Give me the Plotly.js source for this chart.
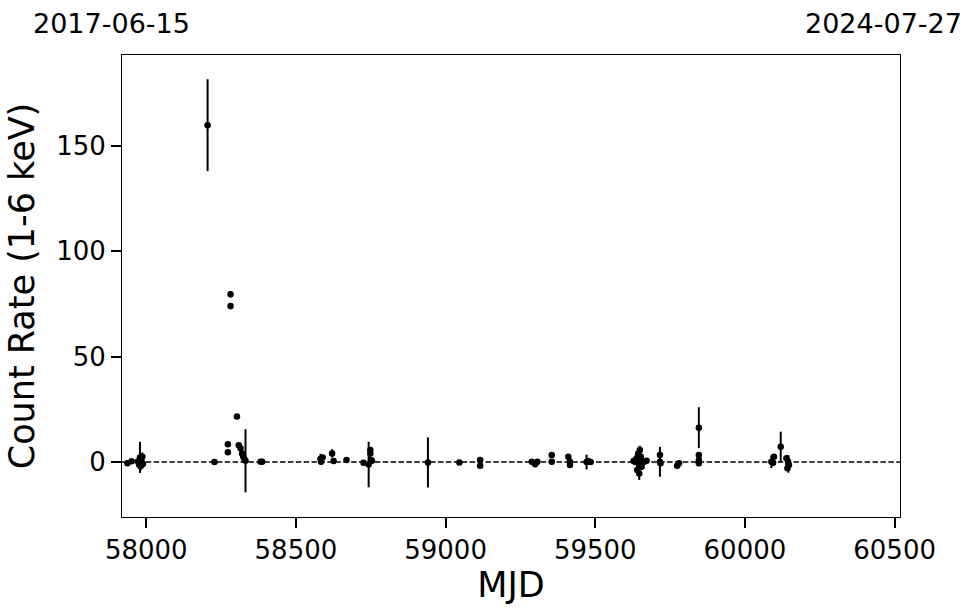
<!DOCTYPE html>
<html>
<head>
<meta charset="utf-8">
<script src="https://cdn.plot.ly/plotly-3.0.1.min.js"></script>
<style>html,body{margin:0;padding:0;background:#fff;}#chart{width:974px;height:613px;}</style>
</head>
<body>
<div id="chart"></div>
<script>
// Observation epochs (MJD), count rate (1-6 keV) and 1-sigma errors
const mjd = [
  57937, 57951, 57972, 57976, 57979, 57981, 57983, 57985, 57987, 57989,
  58204.9, 58228, 58272.6, 58272.6, 58281.6, 58281.6, 58303, 58309, 58315, 58320, 58324, 58328, 58331.6, 58382, 58387,
  58582, 58584, 58589.5, 58621, 58626, 58669,
  58726, 58743, 58748.6, 58748.6, 58751, 58754,
  58941, 59046, 59115.5, 59115.5,
  59288, 59299, 59306.6, 59354.6, 59354.6, 59410, 59415.6, 59415.6, 59471, 59476.6, 59484.6,
  59628, 59632.5, 59638, 59640, 59643.5, 59645, 59647, 59647, 59647, 59649, 59652, 59655, 59660, 59665, 59671.5,
  59716, 59716, 59718, 59773.6, 59780,
  59846, 59846, 59846, 59846,
  60088.4, 60094, 60097, 60119.5, 60138.5, 60142, 60144, 60147, 60145
];
const rate = [
  -0.6, 0.4, 0.3, -1.2, 2.2, -2.0, 0.8, -0.4, 2.5, -1.0,
  159.9, 0.0, 8.4, 4.6, 79.6, 74.0, 21.6, 8.0, 6.5, 4.1, 2.5, 1.3, 0.6, 0.1, 0.1,
  1.4, 0.1, 2.2, 4.1, 0.5, 0.9,
  -0.3, -1.2, 5.7, 4.1, 1.0, 0.6,
  -0.2, -0.2, 1.0, -1.8,
  0.1, -1.1, 0.1, 3.3, 0.1, 2.5, 0.1, -1.4, 0.0, 0.5, 0.0,
  0.5, 0.1, 1.8, -3.8, 4.1, -0.8, -1.4, -5.4, -0.6, 5.7, 2.5, -2.2, 0.1, 0.3, 0.6,
  3.3, 0.1, -0.6, -1.8, -0.6,
  16.3, 3.3, 0.9, -0.6,
  0.1, -0.3, 2.5, 7.3, 1.8, -3.0, 0.1, -1.4, -0.9
];
const rateErr = [
  1.0, 1.0, 1.5, 1.5, 7.4, 2.0, 2.0, 1.5, 2.0, 1.5,
  21.8, 1.0, 1.0, 1.0, 1.5, 1.5, 1.0, 1.0, 1.0, 1.0, 1.0, 1.0, 15.0, 1.0, 1.0,
  2.5, 1.0, 1.0, 2.0, 1.0, 1.0,
  1.0, 10.8, 1.5, 1.5, 1.0, 1.0,
  11.9, 1.0, 1.0, 1.0,
  1.0, 1.0, 1.0, 1.0, 1.0, 1.0, 1.0, 1.0, 3.5, 1.0, 1.0,
  1.0, 1.0, 2.0, 1.5, 2.0, 1.5, 1.5, 1.5, 7.9, 2.0, 1.5, 1.5, 1.0, 1.0, 1.0,
  1.0, 7.1, 1.0, 1.0, 1.0,
  9.7, 1.0, 1.0, 1.0,
  3.0, 1.0, 1.0, 7.1, 1.0, 1.0, 1.0, 1.0, 4.2
];
const xTicks = [58000, 58500, 59000, 59500, 60000, 60500];
const yTicks = [0, 50, 100, 150];
const startDate = "2017-06-15";
const endDate = "2024-07-27";
const xRange = [57919, 60518];
const yRange = [-26.1, 193.2];

const font = "DejaVu Sans, sans-serif";
const trace = {
  x: mjd, y: rate, type: "scatter", mode: "markers",
  marker: {color: "#000", size: 6.5},
  error_y: {type: "data", array: rateErr, visible: true, color: "#000", thickness: 2, width: 0},
  hoverinfo: "skip"
};
const layout = {
  width: 974, height: 613,
  margin: {l: 122, r: 74, t: 55, b: 96},
  paper_bgcolor: "#fff", plot_bgcolor: "#fff",
  showlegend: false,
  font: {family: font, color: "#000"},
  xaxis: {
    range: xRange, tickvals: xTicks, ticktext: xTicks.map(String),
    showgrid: false, zeroline: false,
    showline: true, mirror: true, linecolor: "#000", linewidth: 1,
    ticks: "outside", ticklen: 10, tickwidth: 2, tickcolor: "#000",
    tickfont: {family: font, size: 26, color: "#000"},
    title: {text: "MJD", font: {family: font, size: 35, color: "#000"}, standoff: 8}
  },
  yaxis: {
    range: yRange, tickvals: yTicks, ticktext: yTicks.map(String),
    showgrid: false, zeroline: false,
    showline: true, mirror: true, linecolor: "#000", linewidth: 1,
    ticks: "outside", ticklen: 10, tickwidth: 2, tickcolor: "#000",
    tickfont: {family: font, size: 26, color: "#000"},
    title: {text: "Count Rate (1-6 keV)", font: {family: font, size: 35, color: "#000"}, standoff: 10}
  },
  shapes: [{
    type: "line", xref: "paper", x0: 0, x1: 1, yref: "y", y0: 0, y1: 0,
    line: {color: "#000", width: 1.5, dash: "5.5px,2.4px"}, layer: "below"
  }],
  annotations: [
    {text: startDate, xref: "paper", yref: "paper", x: -0.013, y: 1, yshift: 32, xanchor: "center", yanchor: "middle", showarrow: false, font: {family: font, size: 27, color: "#000"}},
    {text: endDate, xref: "paper", yref: "paper", x: 0.979, y: 1, yshift: 32, xanchor: "center", yanchor: "middle", showarrow: false, font: {family: font, size: 27, color: "#000"}}
  ]
};
Plotly.newPlot("chart", [trace], layout, {displayModeBar: false, staticPlot: true});
</script>
</body>
</html>
